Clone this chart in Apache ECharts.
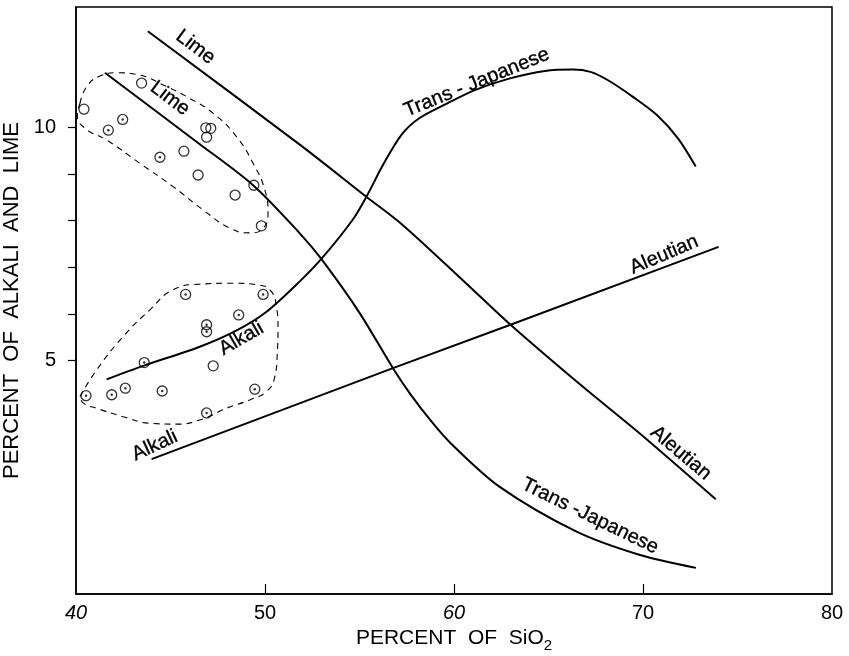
<!DOCTYPE html>
<html><head><meta charset="utf-8">
<script src="https://cdn.jsdelivr.net/npm/echarts@6/dist/echarts.min.js"></script>
<style>html,body{margin:0;padding:0;background:#fff}#c{width:849px;height:656px}</style>
</head><body><div id="c"></div>
<script>
// ---- axis ticks / labels ----
const xTickLabels = [40, 50, 60, 70, 80];
const xItalicLabels = [40, 60];
const xTickMarks = [50, 60, 70];
const yTickMarks = [5, 6, 7, 8, 9, 10];
const yTickLabels = [5, 10];

// ---- curves [SiO2 %, %] ----
const aleutianLime = [[43.8,12.06],[51.84,9.63],[55.34,8.52],[57.28,7.91],[60.45,6.73],[62.99,5.77],[66.79,4.45],[69.8,3.45],[73.85,2.03]];
const aleutianAlkali = [[44.0,2.89],[56.77,4.84],[62.99,5.77],[74.0,7.44]];
const transJapaneseLime = [[41.53,11.17],[46.55,9.64],[49.37,8.76],[51.84,7.73],[52.98,7.18],[55.01,6.02],[56.77,4.84],[57.7,4.28],[58.88,3.66],[59.85,3.22],[62.4,2.3],[66.46,1.34],[69.8,0.84],[72.8,0.56]];
const transJapaneseAlkali = [[41.62,4.6],[43.56,4.89],[46.55,5.3],[48.5,5.65],[50.08,6.05],[51.84,6.7],[52.98,7.18],[54.62,8.01],[55.36,8.51],[56.29,9.23],[57.22,9.84],[58.14,10.19],[59.62,10.51],[61.1,10.8],[62.96,11.05],[64.81,11.21],[66.3,11.24],[67.22,11.19],[68.15,11.01],[69.45,10.66],[70.75,10.26],[71.86,9.76],[72.79,9.16]];

// ---- analyses ----
const limeOpen = [[40.42,10.39],[43.47,10.95],[45.71,9.49],[46.46,8.98],[46.87,9.99],[47.13,9.98],[46.91,9.79],[48.42,8.55],[49.41,8.76],[49.81,7.89]];
const limeDotted = [[41.71,9.94],[42.47,10.17],[44.44,9.36]];
const alkaliOpen = [[47.26,4.89]];
const alkaliDotted = [[40.53,4.25],[41.89,4.27],[42.61,4.41],[43.61,4.96],[44.56,4.35],[45.8,6.42],[46.91,5.77],[46.91,5.62],[46.91,3.88],[48.61,5.98],[49.9,6.42],[49.46,4.39]];

// ---- dashed envelopes ----
const limeEnvelope = [[40.21,10.51],[40.56,10.87],[41.27,11.1],[42.15,11.17],[43.38,11.12],[44.61,10.91],[45.85,10.66],[47.26,10.3],[48.49,9.8],[49.37,9.23],[49.99,8.66],[50.16,8.16],[49.9,7.84],[49.2,7.74],[48.14,7.84],[46.73,8.23],[45.14,8.73],[43.38,9.23],[41.62,9.73],[40.48,9.98],[40.07,10.26],[40.21,10.51]];
const alkaliEnvelope = [[40.21,4.23],[41.09,4.8],[42.5,5.52],[43.91,6.09],[45.14,6.52],[46.55,6.64],[48.31,6.66],[49.72,6.62],[50.34,6.48],[50.6,6.16],[50.69,5.73],[50.65,5.16],[50.52,4.66],[50.08,4.34],[49.19,4.16],[47.96,3.98],[46.55,3.73],[45.32,3.64],[43.91,3.66],[42.5,3.8],[41.09,3.98],[40.39,4.09],[40.21,4.23]];

// ---- curve labels: text, anchor x, anchor y ----
const curveLabels = [
  ['Lime', 46.32, 11.72],
  ['Lime', 44.97, 10.62],
  ['Trans - Japanese', 61.2, 10.96],
  ['Aleutian', 71.12, 7.27],
  ['Alkali', 48.75, 5.47],
  ['Alkali', 44.17, 3.18],
  ['Aleutian', 72.0, 3.02],
  ['Trans -Japanese', 67.2, 1.67]
];
const curveLabelAngles = [-37, -37, 22, 23, 30, 25, -40, -26];

const FONT = 'Liberation Sans';
const chart = echarts.init(document.getElementById('c'), null, {renderer: 'canvas'});

const curve = (data, smooth) => ({
  type: 'line', data, smooth: smooth, showSymbol: false, silent: true,
  lineStyle: {color: '#000', width: 2}, z: 3
});
const envelope = (data) => ({
  type: 'line', data, smooth: 0.5, showSymbol: false, silent: true,
  lineStyle: {color: '#000', width: 1.1, type: [6, 5]}, z: 2
});
const circles = (data) => ({
  type: 'scatter', data, symbol: 'circle', symbolSize: 10, silent: true,
  itemStyle: {color: 'rgba(255,255,255,0)', borderColor: '#000', borderWidth: 1.3}, z: 4
});
const dots = (data) => ({
  type: 'scatter', data, symbol: 'circle', symbolSize: 2.5, silent: true,
  itemStyle: {color: '#000'}, z: 5
});

chart.setOption({
  animation: false,
  backgroundColor: '#fff',
  textStyle: {fontFamily: FONT, color: '#000'},
  grid: {left: 76, right: 17, top: 7, bottom: 62, outerBoundsMode: 'none', containLabel: false,
    show: true, borderColor: '#000', borderWidth: 1.5},
  xAxis: {
    type: 'value', min: 40, max: 80, interval: 10,
    axisLine: {show: true, lineStyle: {color: '#000', width: 1.5}},
    axisTick: {show: true, inside: true, length: 10, customValues: xTickMarks, lineStyle: {color: '#000', width: 1.2}},
    splitLine: {show: false},
    axisLabel: {
      customValues: xTickLabels, margin: 9, color: '#000',
      formatter: v => (xItalicLabels.indexOf(v) >= 0 ? '{i|' + v + '}' : '{n|' + v + '}'),
      rich: {
        i: {fontFamily: FONT, fontSize: 20, fontStyle: 'italic', color: '#000'},
        n: {fontFamily: FONT, fontSize: 20, color: '#000'}
      }
    },
    name: '{a|PERCENT  OF  SiO}{s|2}',
    nameLocation: 'middle', nameGap: 29,
    nameTextStyle: {
      rich: {
        a: {fontFamily: FONT, fontSize: 21, color: '#000', verticalAlign: 'top'},
        s: {fontFamily: FONT, fontSize: 15, color: '#000', verticalAlign: 'top', padding: [10, 0, 0, 0]}
      }
    }
  },
  yAxis: {
    type: 'value', min: 0, max: 12.58,
    axisLine: {show: true, lineStyle: {color: '#000', width: 1.5}},
    axisTick: {show: true, inside: false, length: 8, customValues: yTickMarks, lineStyle: {color: '#000', width: 1.2}},
    splitLine: {show: false},
    axisLabel: {customValues: yTickLabels, margin: 20, fontSize: 20, color: '#000', fontFamily: FONT},
    name: 'PERCENT  OF  ALKALI  AND  LIME',
    nameLocation: 'middle', nameGap: 46,
    nameTextStyle: {fontFamily: FONT, fontSize: 22, color: '#000'}
  },
  series: [
    envelope(limeEnvelope),
    envelope(alkaliEnvelope),
    curve(aleutianLime, 0.3),
    curve(aleutianAlkali, 0),
    curve(transJapaneseLime, 0.3),
    curve(transJapaneseAlkali, 0.3),
    circles(limeOpen),
    circles(limeDotted),
    dots(limeDotted),
    circles(alkaliOpen),
    circles(alkaliDotted),
    dots(alkaliDotted),
    {
      type: 'scatter', symbolSize: 1, silent: true, z: 6,
      itemStyle: {color: 'rgba(0,0,0,0)'},
      data: curveLabels.map((l, i) => ({
        value: [l[1], l[2]],
        label: {show: true, position: 'inside', formatter: l[0], rotate: curveLabelAngles[i],
          fontFamily: FONT, fontSize: 20, color: '#000', opacity: 1,
          textBorderWidth: 0.35, textBorderColor: '#000'}
      }))
    }
  ]
});
</script></body></html>
